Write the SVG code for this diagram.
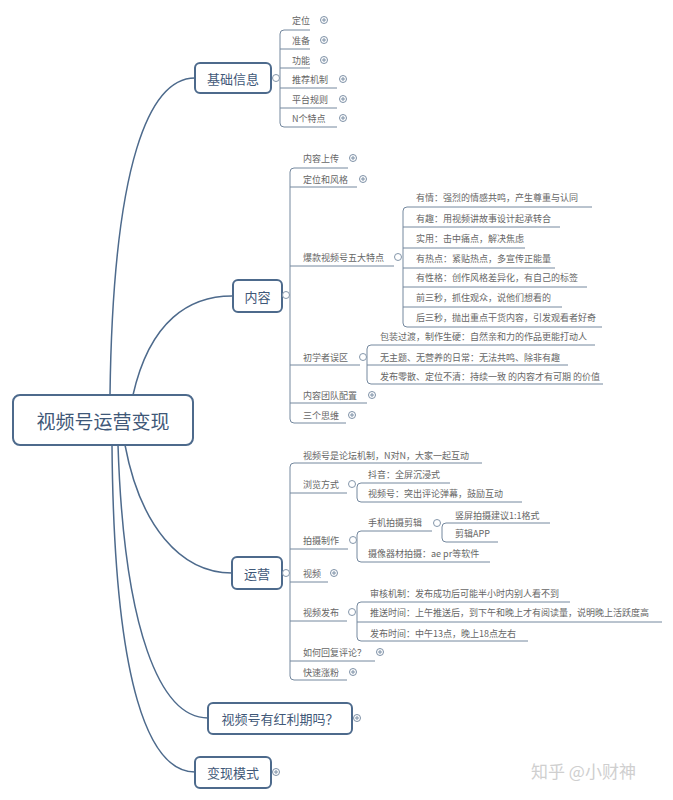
<svg xmlns="http://www.w3.org/2000/svg" width="673" height="800" viewBox="0 0 673 800">
<defs>
<style>
text{font-family:"Noto Sans CJK SC","Liberation Sans",sans-serif;dominant-baseline:central}
.t{font-size:9px;fill:#666}
.l1{font-size:13px;fill:#3f5878}
.root{font-size:19px;fill:#3f5878}
.box{fill:#fff;stroke:#4d6a8c;stroke-width:2}
.main{fill:none;stroke:#4d6a8c;stroke-width:1.5}
.br{fill:none;stroke:#74889e;stroke-width:1}
.ul{fill:none;stroke:#74889e;stroke-width:1}
.ex{fill:#fff;stroke:#8496aa;stroke-width:1}
.wm{font-size:17px;fill:#cfcfcf}
</style>
<g id="plus"><circle r="3.5" fill="#fff" stroke="#7d90a6" stroke-width="1"/><path d="M-2,0H2M0,-2V2" stroke="#7d90a6" stroke-width="1"/></g>
</defs>
<rect width="673" height="800" fill="#fff"/>
<g id="connectors">
<path class="main" d="M110,395 C113,160 150,78 195,78"/>
<path class="main" d="M133,395 C150,320 190,296 232,296"/>
<path class="main" d="M125,445 C140,525 180,573 232,573"/>
<path class="main" d="M118,445 C124,630 160,718 208,718"/>
<path class="main" d="M112,445 C114,690 150,772 195,772"/>
<path class="br" d="M284,30 Q280,30 280,34 V123 Q280,127 284,127"/>
<path class="br" d="M294,168 Q290,168 290,172 V419 Q290,423 294,423"/>
<path class="br" d="M407,207 Q403,207 403,211 V323 Q403,327 407,327"/>
<path class="br" d="M371,345 Q367,345 367,349 V380 Q367,384 371,384"/>
<path class="br" d="M294,463 Q290,463 290,467 V676 Q290,680 294,680"/>
<path class="br" d="M361,483 Q357,483 357,487 V498 Q357,502 361,502"/>
<path class="br" d="M361,531 Q357,531 357,535 V558 Q357,562 361,562"/>
<path class="br" d="M446,523 Q442,523 442,527 V538 Q442,542 446,542"/>
<path class="br" d="M361,602 Q357,602 357,606 V637 Q357,641 361,641"/>
</g>
<g id="root"><rect class="box" x="13" y="395" width="180" height="50" rx="7" stroke-width="2.5"/><text class="root" x="103" y="420" text-anchor="middle">视频号运营变现</text></g>
<g id="n-jichu"><rect class="box" x="195" y="63" width="76" height="30" rx="5"/><text class="l1" x="233" y="78" text-anchor="middle">基础信息</text><circle class="ex" cx="276" cy="78" r="3.5"/></g>
<g id="n-dingwei"><text class="t" x="292" y="20">定位</text><path class="ul" d="M284,30H310"/><use href="#plus" x="324" y="20"/></g>
<g id="n-zhunbei"><text class="t" x="292" y="40">准备</text><path class="ul" d="M280,49H310"/><use href="#plus" x="324" y="40"/></g>
<g id="n-gongneng"><text class="t" x="292" y="60">功能</text><path class="ul" d="M280,68H310"/><use href="#plus" x="324" y="60"/></g>
<g id="n-tuijian"><text class="t" x="292" y="79">推荐机制</text><path class="ul" d="M280,88H337"/><use href="#plus" x="343" y="79"/></g>
<g id="n-pingtai"><text class="t" x="292" y="99">平台规则</text><path class="ul" d="M280,108H337"/><use href="#plus" x="343" y="99"/></g>
<g id="n-ntedian"><text class="t" x="292" y="118">N个特点</text><path class="ul" d="M284,127H337"/><use href="#plus" x="343" y="118"/></g>

<g id="n-neirong"><rect class="box" x="233" y="280" width="49" height="32" rx="5"/><text class="l1" x="257.5" y="296" text-anchor="middle">内容</text><circle class="ex" cx="286" cy="295" r="3.5"/></g>
<g id="n-shangchuan"><text class="t" x="303" y="158">内容上传</text><path class="ul" d="M294,168H348"/><use href="#plus" x="353" y="158"/></g>
<g id="n-fengge"><text class="t" x="303" y="179">定位和风格</text><path class="ul" d="M290,187H357"/><use href="#plus" x="363" y="179"/></g>
<g id="n-wuda"><text class="t" x="303" y="257">爆款视频号五大特点</text><path class="ul" d="M290,266H394"/><circle class="ex" cx="398" cy="257" r="3.5"/></g>
<g id="w1"><text class="t" x="416" y="197">有情：强烈的情感共鸣，产生尊重与认同</text><path class="ul" d="M407,207H592"/></g>
<g id="w2"><text class="t" x="416" y="218">有趣：用视频讲故事设计起承转合</text><path class="ul" d="M403,227H560"/></g>
<g id="w3"><text class="t" x="416" y="238">实用：击中痛点，解决焦虑</text><path class="ul" d="M403,248H525"/></g>
<g id="w4"><text class="t" x="416" y="258">有热点：紧贴热点，多宣传正能量</text><path class="ul" d="M403,268H555"/></g>
<g id="w5"><text class="t" x="416" y="277">有性格：创作风格差异化，有自己的标签</text><path class="ul" d="M403,287H587"/></g>
<g id="w6"><text class="t" x="416" y="297">前三秒，抓住观众，说他们想看的</text><path class="ul" d="M403,307H562"/></g>
<g id="w7"><text class="t" x="416" y="317">后三秒，抛出重点干货内容，引发观看者好奇</text><path class="ul" d="M407,327H602"/></g>
<g id="n-wuqu"><text class="t" x="303" y="357">初学者误区</text><path class="ul" d="M290,365H360"/><circle class="ex" cx="363" cy="357" r="3.5"/></g>
<g id="q1"><text class="t" x="380" y="336">包装过渡，制作生硬：自然亲和力的作品更能打动人</text><path class="ul" d="M371,345H595"/></g>
<g id="q2"><text class="t" x="380" y="357">无主题、无营养的日常：无法共鸣、除非有趣</text><path class="ul" d="M367,365H568"/></g>
<g id="q3"><text class="t" x="380" y="376">发布零散、定位不清：持续一致 的内容才有可期 的价值</text><path class="ul" d="M371,384H603"/></g>
<g id="n-tuandui"><text class="t" x="303" y="395">内容团队配置</text><path class="ul" d="M290,403H367"/><use href="#plus" x="372" y="395"/></g>
<g id="n-siwei"><text class="t" x="303" y="415">三个思维</text><path class="ul" d="M294,423H346"/><use href="#plus" x="352" y="415"/></g>

<g id="n-yunying"><rect class="box" x="232" y="557" width="50" height="32" rx="5"/><text class="l1" x="257" y="573" text-anchor="middle">运营</text><circle class="ex" cx="286" cy="573" r="3.5"/></g>
<g id="y1"><text class="t" x="303" y="455">视频号是论坛机制，N对N，大家一起互动</text><path class="ul" d="M294,463H482"/></g>
<g id="n-liulan"><text class="t" x="303" y="484">浏览方式</text><path class="ul" d="M290,493H347"/><circle class="ex" cx="352" cy="484" r="3.5"/></g>
<g id="b1"><text class="t" x="368" y="474">抖音：全屏沉浸式</text><path class="ul" d="M361,483H450"/></g>
<g id="b2"><text class="t" x="368" y="493">视频号：突出评论弹幕，鼓励互动</text><path class="ul" d="M361,502H522"/></g>
<g id="n-paishe"><text class="t" x="303" y="540">拍摄制作</text><path class="ul" d="M290,549H348"/><circle class="ex" cx="353" cy="540" r="3.5"/></g>
<g id="n-shouji"><text class="t" x="368" y="522">手机拍摄剪辑</text><path class="ul" d="M361,531H432"/><circle class="ex" cx="437" cy="523" r="3.5"/></g>
<g id="s1"><text class="t" x="455" y="515">竖屏拍摄建议1:1格式</text><path class="ul" d="M446,523H550"/></g>
<g id="s2"><text class="t" x="455" y="533">剪辑APP</text><path class="ul" d="M446,542H498"/></g>
<g id="p2"><text class="t" x="368" y="553">摄像器材拍摄：ae pr等软件</text><path class="ul" d="M361,562H490"/></g>
<g id="n-shipin"><text class="t" x="303" y="573">视频</text><path class="ul" d="M290,582H328"/><use href="#plus" x="334" y="573"/></g>
<g id="n-fabu"><text class="t" x="303" y="612">视频发布</text><path class="ul" d="M290,621H347"/><circle class="ex" cx="352" cy="612" r="3.5"/></g>
<g id="f1"><text class="t" x="370" y="593">审核机制：发布成功后可能半小时内别人看不到</text><path class="ul" d="M361,602H570"/></g>
<g id="f2"><text class="t" x="370" y="612">推送时间：上午推送后，到下午和晚上才有阅读量，说明晚上活跃度高</text><path class="ul" d="M357,622H662"/></g>
<g id="f3"><text class="t" x="370" y="633">发布时间：中午13点，晚上18点左右</text><path class="ul" d="M361,641H528"/></g>
<g id="n-huifu"><text class="t" x="303" y="652">如何回复评论？</text><path class="ul" d="M290,661H375"/><use href="#plus" x="380" y="652"/></g>
<g id="n-zhangfen"><text class="t" x="303" y="672">快速涨粉</text><path class="ul" d="M294,680H347"/><use href="#plus" x="353" y="672"/></g>

<g id="n-hongli"><rect class="box" x="208" y="703" width="144" height="31" rx="5"/><text class="l1" x="280" y="718.5" text-anchor="middle">视频号有红利期吗？</text><use href="#plus" x="357" y="718"/></g>
<g id="n-bianxian"><rect class="box" x="195" y="757" width="76" height="31" rx="5"/><text class="l1" x="233" y="772.5" text-anchor="middle">变现模式</text><use href="#plus" x="276" y="772"/></g>
<text class="wm" x="531" y="770">知乎 @小财神</text>
</svg>
